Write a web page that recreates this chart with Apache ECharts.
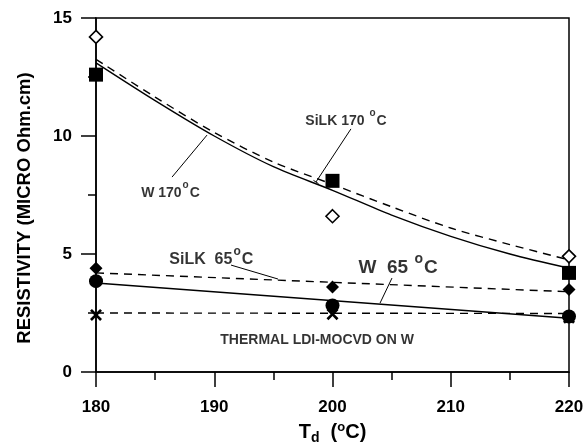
<!DOCTYPE html>
<html>
<head>
<meta charset="utf-8">
<script src="https://cdn.jsdelivr.net/npm/echarts@6/dist/echarts.min.js"></script>
<style>html,body{margin:0;padding:0;background:#fff}#c{width:583px;height:443px}</style>
</head>
<body>
<div id="c"></div>
<script>
// ---- data ----
const xTicks = [180, 190, 200, 210, 220];
const temps = [180, 200, 220];
const w170 = [12.6, 8.1, 4.2];
const silk170 = [14.2, 6.6, 4.9];
const silk65 = [4.4, 3.6, 3.5];
const w65 = [3.85, 2.82, 2.35];
const thermal = [2.42, 2.45, 2.3];
// fitted curves
const fitX = [180, 185, 190, 195, 200, 205, 210, 215, 220];
const w170Fit = [13.1, 11.5, 10.0, 8.7, 7.7, 6.65, 5.75, 5.0, 4.4];
const silk170Fit = [13.25, 11.65, 10.15, 8.9, 7.95, 7.0, 6.1, 5.4, 4.75];
const lineX = [180, 220];
const silk65Fit = [4.2, 3.4];
const w65Fit = [3.77, 2.28];
const thermalFit = [2.5, 2.48];
// annotation texts (data coordinates)
const annText = [
  '{n|SiLK 170 }{s|o}{n|C}',
  '{n|W 170}{s|o}{n|C}',
  '{n|SiLK  65}{s|o}{n|C}',
  '{n|W  65 }{s|o}{n|C}',
  '{n|THERMAL LDI-MOCVD ON W}'
];
const annAt = [[201.14, 10.76], [186.3, 7.71], [189.75, 4.87], [205.55, 4.53], [198.7, 1.48]];
const leaderLines = [
  [[201.56, 10.30], [198.6, 8.05]],
  [[198.39, 8.12], [198.82, 7.98]],
  [[186.43, 8.26], [189.39, 10.04]],
  [[191.42, 4.53], [195.39, 3.94]],
  [[205.03, 3.98], [204.02, 2.92]]
];

const FONT = 'Liberation Sans';
const pair = (xs, ys) => xs.map((x, i) => [x, ys[i]]);
const annSizes = [14, 14, 16, 19, 14];

const chart = echarts.init(document.getElementById('c'), null, {renderer: 'canvas'});

function lineSeries(ys, xs, dashed) {
  return {
    type: 'line', data: pair(xs, ys), showSymbol: false, symbol: 'none',
    smooth: xs.length > 2 ? 0.3 : false, clip: false, silent: true,
    lineStyle: {color: '#000', width: 1.4, type: dashed ? [8, 6] : 'solid'},
    z: 3
  };
}
function scatterSeries(ys, symbol, size, fill) {
  return {
    type: 'scatter', data: pair(temps, ys), symbol: symbol, symbolSize: size, clip: false,
    itemStyle: {color: fill, borderColor: '#000', borderWidth: fill === '#fff' ? 1.6 : 0, opacity: 1},
    z: 5
  };
}
const xPath = 'path://M0,1.6 L1.6,0 L5,3.4 L8.4,0 L10,1.6 L6.6,5 L10,8.4 L8.4,10 L5,6.6 L1.6,10 L0,8.4 L3.4,5 Z';

function richFor(size) {
  return {
    n: {fontFamily: FONT, fontWeight: 'bold', fontSize: size, color: '#000', lineHeight: size + 6, verticalAlign: 'bottom'},
    s: {fontFamily: FONT, fontWeight: 'bold', fontSize: Math.round(size * 0.72), color: '#000', lineHeight: 6, verticalAlign: 'top', padding: [0, 1, 0, 1]}
  };
}

const annLabelSeries = {
  type: 'scatter', symbol: 'circle', symbolSize: 1, clip: false, silent: true, z: 6,
  itemStyle: {color: 'rgba(0,0,0,0)'},
  data: annAt.map((p, i) => ({
    value: p,
    label: {
      show: true, position: 'inside', formatter: annText[i],
      fontFamily: FONT, fontWeight: 'bold', fontSize: annSizes[i], color: '#000',
      rich: richFor(annSizes[i])
    }
  }))
};
const leaderSeries = {
  type: 'line', data: [], silent: true, z: 4,
  markLine: {
    silent: true, symbol: ['none', 'none'], animation: false,
    lineStyle: {color: '#000', width: 1, type: 'solid'},
    label: {show: false},
    data: leaderLines.map(l => [{coord: l[0]}, {coord: l[1]}])
  }
};

chart.setOption({
  animation: false,
  backgroundColor: '#fff',
  grid: {left: 96, right: 14, top: 18, bottom: 71, containLabel: false, outerBoundsMode: 'none',
    show: true, borderColor: '#000', borderWidth: 1.5, backgroundColor: 'transparent'},
  xAxis: {
    type: 'value', min: 180, max: 220, interval: 10,
    axisLine: {lineStyle: {color: '#000', width: 1.5}},
    axisTick: {length: 15, lineStyle: {color: '#000', width: 1.5}},
    minorTick: {show: true, splitNumber: 2, length: 8, lineStyle: {color: '#000', width: 1.5}},
    splitLine: {show: false},
    axisLabel: {margin: 27, fontFamily: FONT, fontWeight: 'bold', fontSize: 17, color: '#000',
      formatter: v => xTicks.indexOf(v) >= 0 ? String(v) : ''},
    name: '{n|T}{sub|d}{n|  (}{sup|o}{n|C)}', nameLocation: 'middle', nameGap: 47,
    nameTextStyle: {fontFamily: FONT, fontWeight: 'bold', fontSize: 20, color: '#000',
      rich: {
        n: {fontFamily: FONT, fontWeight: 'bold', fontSize: 20, color: '#000', lineHeight: 24, verticalAlign: 'middle'},
        sub: {fontFamily: FONT, fontWeight: 'bold', fontSize: 14, verticalAlign: 'bottom', color: '#000', lineHeight: 10},
        sup: {fontFamily: FONT, fontWeight: 'bold', fontSize: 13, verticalAlign: 'top', color: '#000', lineHeight: 10}
      }}
  },
  yAxis: {
    type: 'value', min: 0, max: 15, interval: 5,
    axisLine: {show: true, lineStyle: {color: '#000', width: 1.5}},
    axisTick: {show: true, length: 15, lineStyle: {color: '#000', width: 1.5}},
    minorTick: {show: true, splitNumber: 2, length: 8, lineStyle: {color: '#000', width: 1.5}},
    splitLine: {show: false},
    axisLabel: {margin: 24, fontFamily: FONT, fontWeight: 'bold', fontSize: 17, color: '#000'},
    name: 'RESISTIVITY (MICRO Ohm.cm)', nameLocation: 'middle', nameGap: 62, nameRotate: 90,
    nameTextStyle: {fontFamily: FONT, fontWeight: 'bold', fontSize: 18.5, color: '#000', padding: [0, 26, 0, 0]}
  },
  series: [
    lineSeries(w170Fit, fitX, false),
    lineSeries(silk170Fit, fitX, true),
    lineSeries(silk65Fit, lineX, true),
    lineSeries(w65Fit, lineX, false),
    lineSeries(thermalFit, lineX, true),
    scatterSeries(thermal, xPath, 12, '#000'),
    scatterSeries(w65, 'circle', 14, '#000'),
    scatterSeries(silk65, 'diamond', 13, '#000'),
    scatterSeries(w170, 'rect', 14, '#000'),
    scatterSeries(silk170, 'diamond', 13, '#fff'),
    leaderSeries,
    annLabelSeries
  ]
});
</script>
</body>
</html>
